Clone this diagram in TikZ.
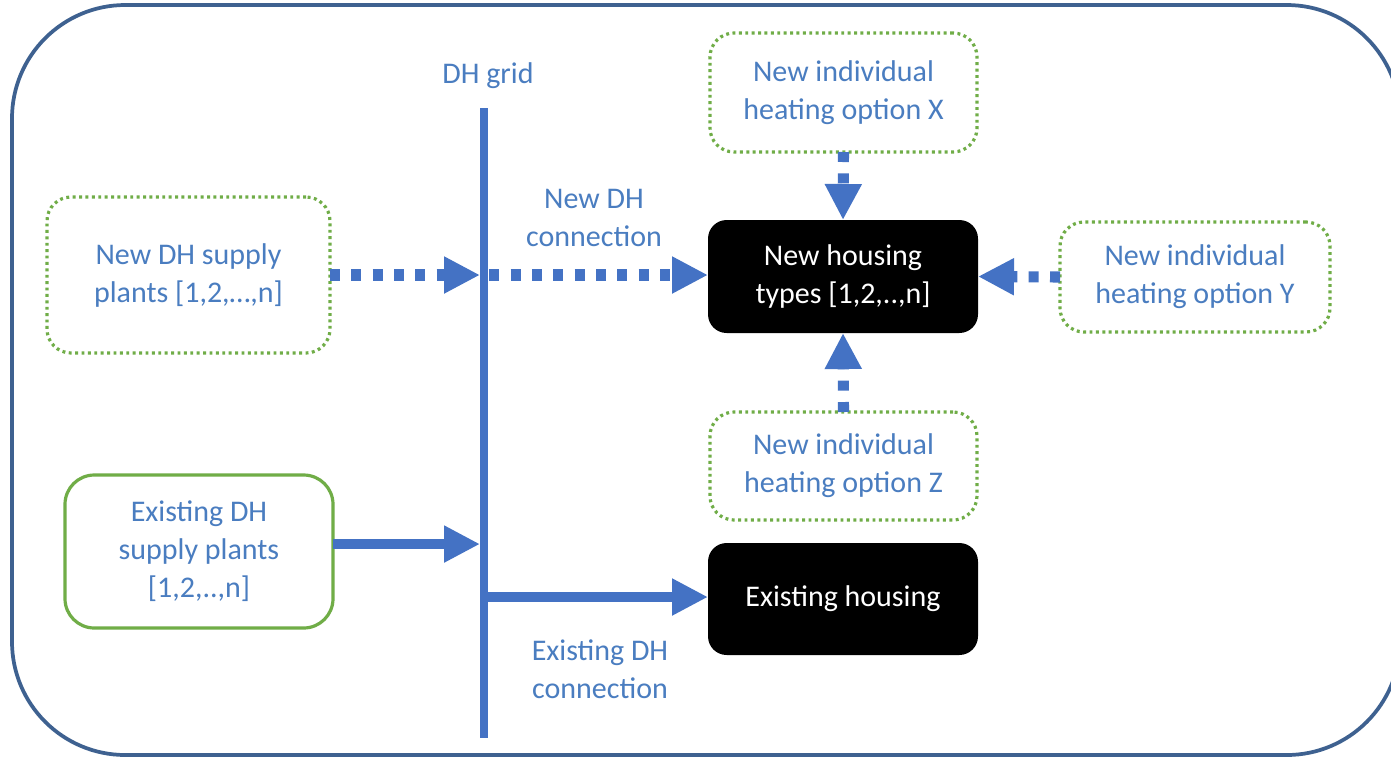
\documentclass[tikz,border=0pt]{standalone}
\usepackage{fontspec}
\setmainfont{Carlito}
\usetikzlibrary{arrows.meta}
\definecolor{txtblue}{HTML}{4A7DC0}
\definecolor{arrblue}{HTML}{4472C4}
\definecolor{grn}{HTML}{70AD47}
\definecolor{frame}{HTML}{3E6190}
\tikzset{
  lbl/.style={text=txtblue, align=center, font=\fontsize{22.5}{28.5}\selectfont, inner sep=0pt},
  dotbox/.style={draw=grn, line width=2.4pt, dash pattern=on 2.2pt off 2.6pt, rounded corners=18pt, align=center, text=txtblue, font=\fontsize{22.5}{28.5}\selectfont, inner sep=0pt, outer sep=0pt},
  solidbox/.style={draw=grn, line width=2.4pt, rounded corners=22pt, align=center, text=txtblue, font=\fontsize{22.5}{28.5}\selectfont, inner sep=0pt, outer sep=0pt},
  blackbox/.style={fill=black, rounded corners=14pt, align=center, text=white, font=\fontsize{22.5}{28.5}\selectfont, inner sep=0pt, outer sep=0pt},
  flowarrow/.style={draw=arrblue, line width=7.5pt, -{Triangle[length=27pt,width=26pt]}},
  dotarrow/.style={flowarrow, line width=8.3pt, dash pattern=on 7.5pt off 8.5pt},
  gridline/.style={draw=arrblue, line width=6pt},
}
\begin{document}
\begin{tikzpicture}[x=0.75pt,y=-0.75pt]
\useasboundingbox (0,0) rectangle (1391,758);
\clip (0,0) rectangle (1391,758);
\fill[white] (0,0) rectangle (1391,758);
\draw[frame, line width=2.8pt, rounded corners=85pt] (12,5) rectangle (1400,755);

% grid
\coordinate (gtop) at (484,108);
\coordinate (gbot) at (484,738);
\draw[gridline] (gtop) -- (gbot);
\node[lbl] (gridlbl) at (488,76) {DH grid};

% boxes
\node[dotbox, minimum width=212.25pt, minimum height=117pt] (newsupply) at (188.5,275) {New DH supply\\plants [1,2,…,n]};
\node[solidbox, minimum width=201pt, minimum height=114.75pt] (existsupply) at (199,551.5) {Existing DH\\supply plants\\{[1,2,..,n]}};
\node[dotbox, minimum width=200.25pt, minimum height=89.25pt] (optX) at (843.5,92.5) {New individual\\heating option X};
\node[dotbox, minimum width=202.5pt, minimum height=82.5pt] (optY) at (1195,277) {New individual\\heating option Y};
\node[dotbox, minimum width=200.25pt, minimum height=81pt] (optZ) at (843.5,466) {New individual\\heating option Z};
\node[blackbox, minimum width=202.5pt, minimum height=84.75pt] (newhouse) at (843,276.5) {New housing\\types [1,2,..,n]};
\node[blackbox, minimum width=202.5pt, minimum height=84pt] (existhouse) at (843,599) {Existing housing};

% labels
\node[lbl] (newconn) at (594,218) {New DH\\connection};
\node[lbl] (existconn) at (600,669) {Existing DH\\connection};

% connectors
\coordinate (j1) at (newsupply.east -| gtop);
\coordinate (j2) at (existsupply.east -| gtop);
\coordinate (j3) at (484,597);
\draw[dotarrow, shorten >=3pt] (newsupply.east) -- (j1);
\draw[dotarrow] ([xshift=4pt]j1) -- (j1 -| newhouse.west);
\draw[flowarrow, shorten >=3pt] ([yshift=5.6pt]existsupply.east) -- ([yshift=5.6pt]j2);
\draw[flowarrow] (j3) -- (j3 -| existhouse.west);
\draw[dotarrow] (optX.south) -- (newhouse.north);
\draw[dotarrow] (optY.west) -- (newhouse.east);
\draw[dotarrow] (optZ.north) -- (newhouse.south);
\end{tikzpicture}
\end{document}
